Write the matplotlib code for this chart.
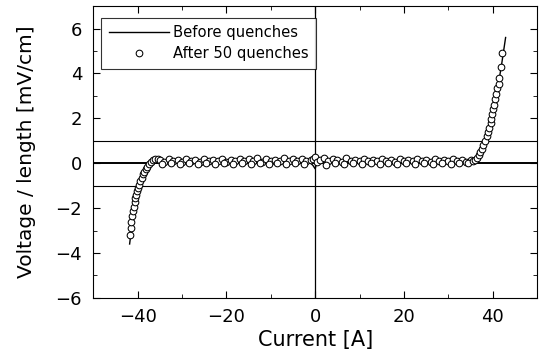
import matplotlib
matplotlib.use("Agg")
from matplotlib import pyplot as plt
from matplotlib.ticker import MultipleLocator

plt.rcParams['font.family'] = ['DejaVu Sans']

# before quenches (solid line)
before_x = [-41.8, -41.3, -40.8, -40.2, -39.6, -39.0, -38.3, -37.5, -36.5, -35.0,
            -33.0, -31.0, -29.0, -27.0, -25.0, -23.0, -21.0, -19.0, -17.0, -15.0,
            -13.0, -11.0, -9.0, -7.0, -5.0, -3.0, -1.5, -0.5, 0.0, 0.5, 1.5,
            3.0, 5.0, 7.0, 9.0, 11.0, 13.0, 15.0, 17.0, 19.0, 21.0, 23.0, 25.0,
            27.0, 29.0, 31.0, 33.0, 35.0, 36.0, 37.0, 38.0, 39.0, 40.0, 41.0,
            42.0, 42.9]
before_y = [-3.6, -2.8, -2.1, -1.5, -1.0, -0.6, -0.3, -0.1, 0.0, 0.03,
            0.06, 0.02, 0.07, 0.03, 0.06, 0.02, 0.07, 0.03, 0.06, 0.02,
            0.07, 0.03, 0.06, 0.02, 0.07, 0.03, 0.1, -0.1, -0.25, 0.15, 0.02,
            0.06, 0.03, 0.07, 0.02, 0.06, 0.03, 0.07, 0.02, 0.06, 0.03, 0.07, 0.02,
            0.06, 0.03, 0.07, 0.04, 0.06, 0.15, 0.4, 0.8, 1.4, 2.2, 3.2,
            4.4, 5.6]

# after 50 quenches (open circles)
after_x = [-41.7, -41.6, -41.5, -41.3, -41.1, -40.9, -40.7, -40.5, -40.3, -40.1,
           -39.9, -39.7, -39.4, -39.1, -38.8, -38.5, -38.2, -37.8, -37.4, -37.0,
           -36.5, -36.0, -35.5,
           -35.0, -34.0, -33.0, -32.0, -31.0, -30.0, -29.0, -28.0, -27.0, -26.0,
           -25.0, -24.0, -23.0, -22.0, -21.0, -20.0, -19.0, -18.0, -17.0, -16.0,
           -15.0, -14.0, -13.0, -12.0, -11.0, -10.0, -9.0, -8.0, -7.0, -6.0,
           -5.0, -4.0, -3.0, -2.0, -1.0, -0.4, 0.0, 0.4, 1.0, 2.0, 3.0, 4.0,
           5.0, 6.0, 7.0, 8.0, 9.0, 10.0, 11.0, 12.0, 13.0, 14.0, 15.0, 16.0,
           17.0, 18.0, 19.0, 20.0, 21.0, 22.0, 23.0, 24.0, 25.0, 26.0, 27.0,
           28.0, 29.0, 30.0, 31.0, 32.0, 33.0, 34.0, 35.0,
           -34.5, -32.5, -30.5, -28.5, -26.5, -24.5, -22.5, -20.5, -18.5, -16.5,
           -14.5, -12.5, -10.5, -8.5, -6.5, -4.5, -2.5, 2.5, 4.5, 6.5, 8.5,
           10.5, 12.5, 14.5, 16.5, 18.5, 20.5, 22.5, 24.5, 26.5, 28.5, 30.5,
           32.5, 34.5,
           35.5, 36.0, 36.4, 36.8, 37.1, 37.5, 37.9, 38.2, 38.6, 38.9,
           39.2, 39.5, 39.7, 39.9, 40.1, 40.3, 40.5, 40.7, 41.0, 41.3,
           41.4, 41.8, 42.1]
after_y = [-3.2, -2.9, -2.6, -2.35, -2.15, -1.95, -1.75, -1.55, -1.4, -1.25,
           -1.1, -0.95, -0.8, -0.65, -0.5, -0.38, -0.27, -0.15, -0.05, 0.05,
           0.12, 0.18, 0.2,
           0.15, 0.05, 0.17, 0.08, 0.14, 0.06, 0.18, 0.09, 0.15, 0.07, 0.2,
           0.08, 0.16, 0.1, 0.2, 0.07, 0.15, 0.09, 0.19, 0.08, 0.17, 0.1,
           0.22, 0.07, 0.18, 0.1, 0.15, 0.08, 0.22, 0.1, 0.17, 0.08, 0.2,
           0.1, 0.14, 0.2, 0.28, 0.05, 0.16, 0.22, 0.1, 0.2, 0.15, 0.07,
           0.21, 0.1, 0.16, 0.08, 0.2, 0.1, 0.16, 0.08, 0.19, 0.1, 0.15,
           0.07, 0.2, 0.1, 0.16, 0.08, 0.19, 0.1, 0.15, 0.07, 0.2, 0.09,
           0.16, 0.08, 0.18, 0.1, 0.15, 0.07, 0.12,
           -0.02, 0.0, -0.03, 0.01, -0.02, 0.0, -0.03, 0.0, -0.02, 0.01,
           -0.03, 0.0, -0.02, 0.01, -0.03, 0.0, -0.05, -0.1, 0.0, -0.02, 0.01,
           -0.03, 0.0, -0.02, 0.01, -0.03, 0.0, -0.02, 0.01, -0.03, 0.0, -0.02,
           0.0, 0.02,
           0.1, 0.15, 0.22, 0.35, 0.5, 0.65, 0.8, 1.0, 1.2, 1.38,
           1.55, 1.78, 1.98, 2.2, 2.4, 2.6, 2.85, 3.1, 3.35, 3.55,
           3.8, 4.3, 4.9]

fig = plt.figure(figsize=(5.42, 3.58), dpi=100)
ax = fig.add_axes([0.172, 0.168, 0.819, 0.815])

# reference lines
ax.axhline(1, color='black', lw=0.8, zorder=1)
ax.axhline(-1, color='black', lw=0.8, zorder=1)
ax.axhline(0, color='black', lw=1.4, zorder=1)
ax.axvline(0, color='black', lw=0.9, zorder=1)

ax.plot(before_x, before_y, color='black', lw=1.0, label='Before quenches', zorder=2)
ax.plot(after_x, after_y, ls='none', marker='o', ms=4.8, mfc='white', mec='black',
        mew=0.75, label='After 50 quenches', zorder=3)

ax.set_xlim(-50, 50)
ax.set_ylim(-6, 7)
ax.xaxis.set_major_locator(MultipleLocator(20))
ax.xaxis.set_minor_locator(MultipleLocator(10))
ax.yaxis.set_major_locator(MultipleLocator(2))
ax.yaxis.set_minor_locator(MultipleLocator(1))
ax.tick_params(which='both', direction='in', top=True, right=True, labelsize=13)
ax.tick_params(which='major', length=5)
ax.tick_params(axis='x', which='major', pad=7)
ax.tick_params(axis='y', which='major', pad=8)
ax.tick_params(which='minor', length=3)
ax.set_yticks([-6, -4, -2, 0, 2, 4, 6])

ax.set_xlabel('Current [A]', fontsize=15, labelpad=3)
ax.set_ylabel('Voltage / length [mV/cm]', fontsize=14.5, labelpad=14)

leg = ax.legend(loc='upper left', fontsize=10.6, frameon=True, fancybox=False,
                edgecolor='black', handlelength=4.1, handletextpad=0.3,
                labelspacing=0.4, borderpad=0.5, borderaxespad=0,
                bbox_to_anchor=(0.018, 0.959))
leg.get_frame().set_linewidth(0.8)

plt.savefig('out.png', dpi=100)
